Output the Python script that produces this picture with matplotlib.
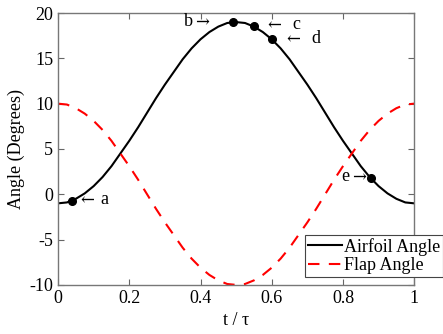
import matplotlib
matplotlib.use('Agg')
import matplotlib.pyplot as plt

plt.rcParams['font.family'] = ['Liberation Serif', 'DejaVu Serif']
plt.rcParams['axes.unicode_minus'] = False
plt.rcParams['font.size'] = 13

# values, t/tau in steps of 0.025
t = [i / 40 for i in range(41)]
airfoil = [-1.0, -0.9, -0.5, 0.1, 0.9, 1.9, 3.1, 4.5, 5.9, 7.4, 9.0,
           10.6, 12.1, 13.5, 14.9, 16.1, 17.1, 17.9, 18.5, 18.9, 19.0,
           18.9, 18.5, 17.9, 17.1, 16.1, 14.9, 13.5, 12.1, 10.6, 9.0,
           7.4, 5.9, 4.5, 3.1, 1.9, 0.9, 0.1, -0.5, -0.9, -1.0]
flap = [10.0, 9.9, 9.5, 8.9, 8.1, 7.1, 5.9, 4.5, 3.1, 1.6, 0.0,
        -1.6, -3.1, -4.5, -5.9, -7.1, -8.1, -8.9, -9.5, -9.9, -10.0,
        -9.9, -9.5, -8.9, -8.1, -7.1, -5.9, -4.5, -3.1, -1.6, 0.0,
        1.6, 3.1, 4.5, 5.9, 7.1, 8.1, 8.9, 9.5, 9.9, 10.0]

pt_labels = ['a', 'b', 'c', 'd', 'e']
pt_t = [0.04, 0.49, 0.55, 0.60, 0.88]
pt_val = [-0.7, 19.0, 18.6, 17.1, 1.8]

fig = plt.figure(figsize=(4.43, 3.34), dpi=100)
ax = fig.add_axes([0.131, 0.147, 0.804, 0.814])

ax.plot(t, airfoil, color='black', lw=1.5, label='Airfoil Angle')
ax.plot(t, flap, color='red', lw=1.5, ls=(0, (5.5, 4.5)), label='Flap Angle')
ax.plot(pt_t, pt_val, 'o', color='black', ms=5.5)

# arrow glyph offset, letter offset (pixels from the point)
offs = {'a': (8, 28), 'b': (-24, -40), 'c': (13, 38), 'd': (15, 40), 'e': (-6, -22)}
for lab, x, y in zip(pt_labels, pt_t, pt_val):
    oa, ol = offs[lab]
    if oa > 0:
        arr, ha = '\u2190', 'left'
    else:
        arr, ha = '\u2192', 'right'
    ax.annotate(arr, (x, y), xytext=(oa, 0), textcoords='offset pixels',
                ha=ha, va='center', fontsize=12, family='DejaVu Serif')
    ax.annotate(lab, (x, y), xytext=(ol, 1), textcoords='offset pixels',
                ha=ha, va='center', fontsize=13)

ax.set_xlim(0, 1)
ax.set_ylim(-10, 20)
ax.set_xticks([0, 0.2, 0.4, 0.6, 0.8, 1])
ax.set_xticklabels(['0', '0.2', '0.4', '0.6', '0.8', '1'])
ax.set_yticks([-10, -5, 0, 5, 10, 15, 20])
ax.tick_params(direction='in', top=True, right=True, length=4, color='#666666',
               labelsize=13)
for s in ax.spines.values():
    s.set_color('#777777')
    s.set_linewidth(1.0)

ax.set_xlabel('t / \u03c4', fontsize=13, labelpad=4)
ax.set_ylabel('Angle (Degrees)', fontsize=13, labelpad=3)

# legend sticks out past the right edge of the axes, as in the original
leg = ax.legend(loc='upper left', bbox_to_anchor=(305 / 443, 1 - 235 / 334),
                bbox_transform=fig.transFigure, fancybox=False, framealpha=1,
                borderaxespad=0, edgecolor='#444444', fontsize=13,
                handlelength=1.9, borderpad=0.15, labelspacing=0.1,
                handletextpad=0.1)
leg.get_frame().set_linewidth(0.8)

fig.savefig('out.png', dpi=100)
